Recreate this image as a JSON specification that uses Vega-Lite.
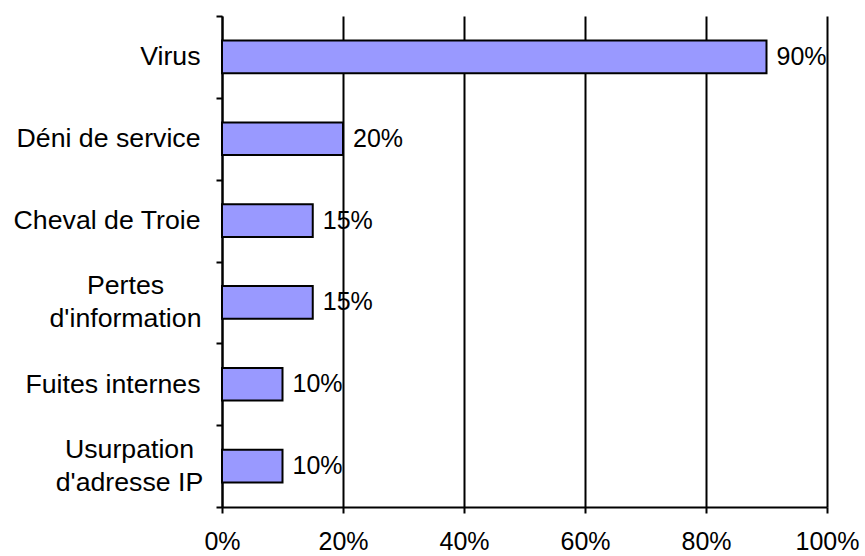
{
  "$schema": "https://vega.github.io/schema/vega-lite/v6.json",
  "width": 605,
  "height": 491,
  "autosize": {"type": "none"},
  "padding": {"left": 222, "top": 16, "right": 38, "bottom": 49},
  "background": "white",
  "config": {"view": {"stroke": null}, "font": "Liberation Sans"},
  "data": {
    "values": [
      {"cat": "Virus", "v": 0.9},
      {"cat": "Déni de service", "v": 0.2},
      {"cat": "Cheval de Troie", "v": 0.15},
      {"cat": "Pertes d'information", "v": 0.15},
      {"cat": "Fuites internes", "v": 0.1},
      {"cat": "Usurpation d'adresse IP", "v": 0.1}
    ]
  },
  "encoding": {
    "y": {
      "field": "cat",
      "type": "nominal",
      "sort": null,
      "scale": {"paddingInner": 0, "paddingOuter": 0},
      "axis": {
        "title": null,
        "grid": false,
        "domainColor": "black",
        "domainWidth": 2,
        "tickBand": "extent",
        "tickColor": "black",
        "tickWidth": 2,
        "tickSize": 6,
        "labelFontSize": 26.7,
        "labelColor": "black",
        "labelLineHeight": 33,
        "labelLimit": 400,
        "labelAlign": {
          "condition": {"test": "datum.value == \"Pertes d'information\" || datum.value == \"Usurpation d'adresse IP\"", "value": "center"},
          "value": "right"
        },
        "labelOffset": {
          "condition": {"test": "datum.value == \"Pertes d'information\" || datum.value == \"Usurpation d'adresse IP\"", "value": -17},
          "value": 0
        },
        "labelPadding": {
          "condition": [
            {"test": "datum.value == \"Pertes d'information\"", "value": 91},
            {"test": "datum.value == \"Usurpation d'adresse IP\"", "value": 87}
          ],
          "value": 16
        },
        "labelExpr": "datum.value == \"Pertes d'information\" ? ['Pertes', \"d'information\"] : datum.value == \"Usurpation d'adresse IP\" ? ['Usurpation', \"d'adresse IP\"] : datum.label"
      }
    },
    "x": {
      "field": "v",
      "type": "quantitative",
      "scale": {"domain": [0, 1]},
      "axis": {
        "title": null,
        "values": [0, 0.2, 0.4, 0.6, 0.8, 1],
        "format": ".0%",
        "grid": true,
        "gridColor": "black",
        "gridWidth": 2,
        "gridOpacity": 1,
        "domainColor": "black",
        "domainWidth": 2,
        "tickColor": "black",
        "tickWidth": 2,
        "tickSize": 6,
        "labelFontSize": 25,
        "labelColor": "black",
        "labelPadding": 16,
        "labelFlush": false,
        "labelOverlap": false
      }
    }
  },
  "layer": [
    {"mark": {"type": "bar", "height": {"band": 0.4}, "fill": "#9999FF", "stroke": "black", "strokeWidth": 2}},
    {
      "mark": {"type": "text", "align": "left", "baseline": "middle", "dx": 10, "fontSize": 25, "color": "black"},
      "encoding": {"text": {"field": "v", "format": ".0%"}}
    }
  ]
}
